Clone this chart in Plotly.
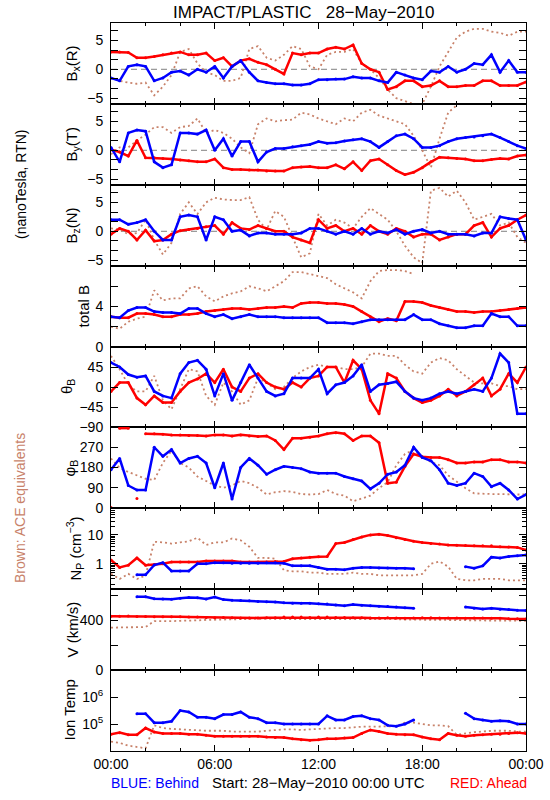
import plotly.graph_objects as go

# ---------------- data (time in hours from 28-May-2010 00:00 UTC) ----------------
hours = [i * 0.5 for i in range(49)]

bx_red = [3.0,3.0,2.9,2.0,2.0,2.2,2.5,2.8,3.0,2.5, 2.5,2.8,1.5,2.0,0.5,1.5,1.8,1.2,0.8,0.0,
          -0.8,2.8,2.5,2.8,2.8,3.5,3.8,3.5,4.2,1.0, 0.0,-0.5,-3.5,-3.0,-2.0,-2.0,-3.0,-2.8,-2.0,-3.0,
          -3.0,-2.8,-2.8,-2.0,-2.0,-2.8,-2.8,-2.8,-2.2]
bx_blue = [-1.5,-2.0,0.5,0.8,0.5,-2.0,-1.5,-0.5,-0.3,-1.0, 0.0,-0.5,0.5,-1.5,0.5,1.5,-0.5,-2.0,-2.3,-2.5,
           -2.5,-2.7,-2.7,-2.5,-1.8,-1.8,-1.7,-1.7,-1.3,-1.5, -1.5,-2.0,-2.3,-0.5,-1.0,-1.5,-1.8,-0.3,-0.5,0.5,
           -0.5,0.0,1.0,0.8,2.5,-0.5,1.5,-0.5,-0.5]
bx_ace = [-1.5,-2.0,-2.3,-2.5,-2.3,-4.5,-3.0,-1.0,3.0,3.5, 1.0,-0.5,-1.0,-2.0,-2.0,-1.5,3.5,4.0,2.0,1.5,
          2.5,4.0,3.5,0.5,0.0,2.5,3.0,3.0,3.5,1.0, 0.0,-1.5,-3.5,-5.0,-5.5,-6.0,-6.0,-3.0,0.5,3.0,
          5.5,6.5,7.0,7.0,6.5,6.3,5.8,6.5,6.5]

by_red = [0.1,-0.3,-1.0,1.7,-1.3,-1.3,-1.4,-1.5,-1.7,-1.8, -2.0,-2.0,-1.5,-3.0,-3.3,-3.3,-3.4,-3.4,-3.6,-3.6,
          -3.6,-3.0,-2.9,-2.8,-3.0,-3.0,-2.5,-3.2,-2.0,-3.5, -1.8,-1.5,-2.5,-3.5,-4.2,-3.8,-3.0,-2.0,-1.2,-1.3,
          -1.4,-1.5,-1.8,-1.8,-1.6,-1.4,-1.5,-1.0,-0.8]
by_blue = [0.5,-2.0,3.0,3.5,3.3,-2.0,-3.0,-2.5,3.0,3.0, 2.8,3.5,0.0,2.0,-1.0,1.5,1.5,-2.0,-0.3,0.3,
           0.3,0.6,0.8,1.0,1.5,1.2,1.3,1.6,1.8,2.0, 1.5,0.5,1.5,2.5,2.8,2.0,0.5,0.5,0.8,1.5,
           2.0,2.2,2.3,2.5,2.8,2.2,1.5,0.8,0.3]
by_ace = [-0.7,0.5,0.5,1.7,2.7,4.0,4.0,3.0,4.0,4.2, 5.5,3.0,3.5,3.0,2.0,0.5,-0.5,4.5,5.5,5.0,
          5.2,5.3,6.5,6.2,5.5,5.0,4.5,5.5,5.0,6.5, 7.0,6.0,5.5,5.0,4.5,2.5,0.0,-3.0,2.0,6.5,
          7.8,None,None,None,None,None,None,None,None]

bz_red = [-0.5,0.5,0.0,-1.5,0.2,-1.7,-1.5,-0.5,0.1,0.3, 0.5,0.8,1.0,-0.5,1.5,0.5,0.3,1.0,0.5,0.0,
          0.0,-1.0,-1.5,-2.0,2.0,0.5,1.0,0.0,0.5,-0.5, 1.0,0.0,-0.5,0.5,0.0,-1.0,-0.5,-0.5,-1.5,-1.0,
          -0.5,-0.5,1.0,1.5,-1.0,0.5,1.0,2.0,2.8]
bz_blue = [2.0,2.0,1.2,1.5,2.0,0.0,-1.5,-1.5,2.5,2.8, 2.5,-1.5,2.5,2.0,0.0,0.2,-0.8,-0.3,-0.3,-0.5,
           -0.5,-0.5,-0.3,0.5,0.5,0.0,-0.5,0.0,-0.5,0.5, -0.5,0.0,-0.3,0.3,-0.5,0.0,0.3,-0.3,0.0,-0.5,
           -0.5,-0.5,-0.8,-0.3,-0.3,2.5,2.2,2.0,-1.5]
bz_ace = [0.5,0.3,-0.5,-0.3,2.0,-1.5,-4.0,-2.0,3.0,5.0, 3.0,5.0,5.8,5.5,5.4,5.4,5.9,2.0,0.3,3.5,
          2.5,-1.0,-4.5,-3.8,3.0,1.0,2.0,1.5,0.5,2.5, 4.0,3.0,2.0,0.0,-2.5,-4.5,-5.5,7.0,7.5,6.0,
          7.0,5.0,2.0,2.5,3.0,1.0,1.5,-1.0,-2.0]

bt_red = [3.0,2.9,2.9,3.3,3.3,3.2,3.0,3.0,3.2,3.2, 3.3,3.5,3.6,3.7,3.8,3.8,3.7,3.8,3.9,3.9,
          4.0,3.9,4.3,4.4,4.4,4.3,4.3,4.2,4.0,3.5, 3.0,2.5,2.8,2.6,4.5,4.5,4.4,4.1,3.9,3.7,
          3.5,3.5,3.4,3.5,3.5,3.6,3.7,3.8,3.9]
bt_blue = [3.0,2.9,3.6,3.9,3.9,3.5,3.4,3.4,3.3,3.8, 3.8,3.3,3.0,3.2,2.8,3.0,3.2,3.0,3.0,3.0,
           2.9,2.9,2.9,2.9,2.9,2.4,2.4,2.4,2.3,2.5, 2.7,2.7,2.7,2.7,2.7,3.2,2.7,2.7,2.3,2.1,
           1.9,1.9,2.1,2.1,3.3,3.0,3.0,2.1,2.1]
bt_ace = [2.0,1.8,2.5,2.8,3.0,5.6,4.6,4.8,4.8,5.8, 6.0,5.0,4.5,5.0,5.3,5.5,6.0,5.8,5.5,6.0,
          6.5,7.4,7.4,7.2,7.0,6.8,6.2,5.8,5.4,4.8, 6.5,7.5,7.6,7.6,7.5,7.2,None,None,None,None,
          None,None,None,None,None,None,None,None,None]

th_red = [-10,10,10,-25,-40,-20,-35,-35,-10,10, 18,30,10,40,0,-10,20,30,10,0,
          -5,10,0,20,25,45,45,10,60,40, -30,-60,30,20,-10,-25,-35,-30,-20,-5,
          -20,-10,5,20,-20,-5,30,10,45]
th_blue = [55,45,28,22,25,-10,-20,-25,30,55, 60,40,-20,30,-30,10,50,20,-10,-20,
           -15,20,20,20,40,-15,5,10,25,50, -10,5,8,12,-10,-25,-30,-25,-15,-10,
           -15,-10,-5,-10,20,75,55,-60,-60]
th_ace = [70,40,5,-10,-10,25,-30,-50,-5,40, 35,-20,-40,10,-10,-40,-30,20,10,-5,
          0,20,35,45,50,45,45,40,40,45, 75,75,70,70,50,35,30,55,65,60,
          40,25,10,8,8,2,2,-5,-5]

ph_red = [2,355,355,42,330,330,328,325,325,322, 322,320,325,325,320,325,320,318,320,300,
          260,310,310,315,320,330,335,330,300,320, 320,290,110,115,185,240,228,225,225,215,
          200,200,205,205,215,215,205,205,200]
ph_blue = [170,220,100,80,80,270,230,260,200,220, 230,200,90,200,40,180,220,190,150,170,
           185,180,175,160,155,155,155,140,130,120, 85,110,150,160,190,270,225,210,170,110,
           100,110,155,140,95,110,80,40,60]
ph_ace = [220,178,160,145,130,125,200,255,200,180, 140,120,100,90,100,120,110,90,60,70,
          75,72,62,60,62,80,62,55,30,42, 55,88,115,190,240,258,228,205,190,145,
          115,88,65,62,62,62,60,60,60]

np_red = [1.35,0.75,0.9,1.6,0.9,0.95,1.0,1.15,1.15,1.15, 1.15,1.25,1.25,1.25,1.25,1.15,1.15,1.15,1.15,1.2,
          1.2,1.5,1.6,1.7,1.75,1.8,5.0,5.5,7.0,8.5, 10.0,10.5,9.5,8.0,7.0,6.0,5.5,5.0,4.8,4.5,
          4.4,4.3,4.2,4.2,4.2,3.9,3.8,3.7,3.0]
np_blue = [None,None,None,0.42,0.42,0.91,1.1,0.57,0.57,0.57, 1.0,1.0,1.1,1.1,1.05,1.05,1.05,1.05,1.1,1.1,
           1.05,0.85,0.85,0.85,0.75,0.65,0.65,0.62,0.7,0.75, 0.75,0.72,0.72,0.7,0.7,0.68,None,None,None,None,
           None,0.8,0.7,0.85,1.7,1.6,1.8,1.9,2.0]
np_ace = [0.45,0.3,0.45,0.3,0.4,5.8,5.5,5.0,5.5,6.0, 8.0,4.5,5.5,5.5,7.5,6.5,3.9,1.6,1.6,1.5,
          0.6,0.55,0.55,0.5,0.5,0.45,0.45,0.45,0.5,0.45, 0.45,0.4,0.4,0.4,0.4,0.4,0.45,1.0,1.2,0.8,
          0.3,0.27,0.27,0.3,0.3,0.3,0.27,0.27,0.27]

v_red = [432,432,433,430,430,428,428,428,428,426, 425,422,420,422,420,418,418,418,420,420,
         425,425,425,422,425,425,422,422,420,420, 418,418,420,418,415,418,420,420,418,418,
         418,415,418,418,415,415,412,412,410]
v_blue = [None,None,None,588,588,572,570,568,575,582, 580,570,585,565,560,558,555,550,548,545,
          540,535,535,535,532,530,522,515,525,520, 515,512,510,505,500,495,None,None,None,None,
          None,505,495,490,495,488,485,480,478]
v_ace = [340,340,342,345,345,392,390,392,395,395, 398,402,405,405,405,408,410,410,410,410,
         412,412,412,412,410,410,412,410,410,408, 408,408,410,408,405,405,405,402,400,400,
         400,400,398,398,398,398,395,395,395]

tp_red = [4.17e4,4.79e4,3.98e4,3.98e4,7.08e4,5.01e4,4.47e4,4.47e4,4.47e4,4.17e4,
          4.17e4,3.8e4,3.55e4,3.55e4,3.55e4,3.55e4,3.55e4,3.55e4,3.31e4,3.16e4,
          3.16e4,2.82e4,2.63e4,2.51e4,2.63e4,2.82e4,2.82e4,3.02e4,3.16e4,4.47e4,
          6.03e4,5.25e4,4.47e4,4.17e4,3.98e4,3.98e4,3.31e4,2.82e4,2.63e4,4.47e4,
          3.8e4,3.55e4,3.8e4,3.98e4,4.17e4,4.17e4,4.47e4,4.79e4,4.47e4]
tp_blue = [None,None,None,2.4e5,2.4e5,1.12e5,1.12e5,1.26e5,3.16e5,2.8e5,
           1.78e5,1.78e5,1.58e5,2.24e5,2.24e5,2.8e5,1.78e5,1.58e5,1.12e5,1.12e5,
           1.0e5,1.0e5,1.0e5,1.0e5,1.0e5,2.0e5,1.41e5,1.41e5,1.9e5,2.0e5,
           1.58e5,1.41e5,8.9e4,8.3e4,1.0e5,1.41e5,None,None,None,None,
           None,2.5e5,1.58e5,1.41e5,1.26e5,1.32e5,1.26e5,1.0e5,1.0e5]
tp_ace = [2.24e4,2.0e4,1.58e4,1.41e4,1.26e4,8.91e4,7.08e4,6.61e4,6.31e4,6.31e4,
          6.03e4,5.62e4,5.62e4,5.62e4,5.25e4,5.25e4,5.01e4,5.25e4,5.62e4,6.03e4,
          6.31e4,6.31e4,6.03e4,6.31e4,6.61e4,7.08e4,7.08e4,7.08e4,7.59e4,7.94e4,
          7.94e4,7.94e4,7.94e4,8.32e4,1.12e5,1.12e5,1.0e5,8.91e4,8.91e4,8.32e4,
          3.98e4,4.47e4,5.01e4,5.25e4,5.62e4,5.62e4,5.62e4,5.25e4,5.25e4]

x_tickvals = [0, 6, 12, 18, 24]
x_ticktext = ["00:00", "06:00", "12:00", "18:00", "00:00"]
x_minor = [2, 4, 8, 10, 14, 16, 20, 22]

# ---------------- styling ----------------
RED, BLUE, BROWN = "#FF0000", "#0000FF", "#C8826A"
FONT = "Liberation Sans"
W, H = 550, 800
X0, X1 = 111, 526
edges = [23, 104, 185, 266, 347, 427, 508, 589, 670, 751]

bmin = [-20/3, -10/3, -5/3, 5/3, 10/3, 20/3]
panels = [
    dict(r=bx_red, b=bx_blue, a=bx_ace, rng=[-6, 8], typ="linear", tv=[-5, 0, 5], tt=["\u22125", "0", "5"],
         mv=bmin, lab="B<sub>x</sub>(R)", lx=72, zero=True),
    dict(r=by_red, b=by_blue, a=by_ace, rng=[-6, 8], typ="linear", tv=[-5, 0, 5], tt=["\u22125", "0", "5"],
         mv=bmin, lab="B<sub>y</sub>(T)", lx=72, zero=True),
    dict(r=bz_red, b=bz_blue, a=bz_ace, rng=[-6, 8], typ="linear", tv=[-5, 0, 5], tt=["\u22125", "0", "5"],
         mv=bmin, lab="B<sub>z</sub>(N)", lx=72, zero=True),
    dict(r=bt_red, b=bt_blue, a=bt_ace, rng=[0, 8], typ="linear", tv=[0, 4], tt=["0", "4"],
         mv=[2, 6], lab="total B", lx=83, zero=False),
    dict(r=th_red, b=th_blue, a=th_ace, rng=[-90, 90], typ="linear", tv=[-90, -45, 0, 45],
         tt=["\u221290", "\u221245", "0", "45"], mv=[], lab="\u03b8<sub>B</sub>", lx=67, zero=False),
    dict(r=ph_red, b=ph_blue, a=ph_ace, rng=[0, 360], typ="linear", tv=[0, 90, 180, 270],
         tt=["0", "90", "180", "270"], mv=[], lab="\u03c6<sub>B</sub>", lx=70, zero=False, wrap=True),
    dict(r=np_red, b=np_blue, a=np_ace, rng=[-0.87, 1.93], typ="log", tv=[1, 10], tt=["1", "10"],
         mv=[0.2, 0.3, 0.4, 0.5, 0.6, 0.7, 0.8, 0.9, 2, 3, 4, 5, 6, 7, 8, 9, 20, 30, 40, 50, 60, 70, 80],
         lab="N<sub>P</sub> (cm<sup>\u22123</sup>)", lx=75, zero=False),
    dict(r=v_red, b=v_blue, a=v_ace, rng=[0, 650], typ="linear", tv=[0, 400], tt=["0", "400"],
         mv=[200, 600], lab="V (km/s)", lx=72, zero=False),
    dict(r=tp_red, b=tp_blue, a=tp_ace, rng=[4, 7], typ="log", tv=[1e5, 1e6], tt=["10<sup>5</sup>", "10<sup>6</sup>"],
         mv=[], lab="Ion Temp", lx=69, zero=False),
]


def break_wraps(t, v, jump=200):
    xs, ys, prev = [], [], None
    for a, b in zip(t, v):
        if prev is not None and b is not None and abs(b - prev) > jump:
            xs.append(None)
            ys.append(None)
        xs.append(a)
        ys.append(b)
        if b is not None:
            prev = b
    return xs, ys


fig = go.Figure()
layout = {}
shapes = []
annotations = []
for i, p in enumerate(panels):
    n = i + 1
    sfx = "" if n == 1 else str(n)
    xa, ya = "x" + sfx, "y" + sfx
    for vals, col, kind in ((p["a"], BROWN, "ace"), (p["r"], RED, "sc"), (p["b"], BLUE, "sc")):
        xs, ys = (break_wraps(hours, vals) if p.get("wrap") else (hours, vals))
        if kind == "ace":
            fig.add_trace(go.Scatter(x=xs, y=ys, xaxis=xa, yaxis=ya, mode="lines",
                                     line=dict(color=col, width=1.8, dash="2px,3px"), showlegend=False,
                                     hoverinfo="skip"))
        else:
            fig.add_trace(go.Scatter(x=xs, y=ys, xaxis=xa, yaxis=ya, mode="lines+markers",
                                     line=dict(color=col, width=2.5), marker=dict(color=col, size=3),
                                     showlegend=False, hoverinfo="skip"))
    top, bot = edges[i], edges[i + 1]
    layout["xaxis" + sfx] = dict(
        domain=[X0 / W, X1 / W], range=[0, 24], anchor=ya, showline=True, linecolor="black", linewidth=1,
        mirror="ticks", ticks="inside", ticklen=6, tickcolor="black", tickvals=x_tickvals,
        ticktext=x_ticktext, showticklabels=(n == 9), showgrid=False, zeroline=False, automargin=False,
        tickfont=dict(family=FONT, size=14, color="black"),
        minor=dict(tickvals=x_minor, ticks="inside", ticklen=3, tickcolor="black", showgrid=False),
    )
    layout["yaxis" + sfx] = dict(
        domain=[1 - bot / H, 1 - top / H], range=p["rng"], type=p["typ"], anchor=xa, showline=True,
        linecolor="black", linewidth=1, mirror="ticks", ticks="inside", ticklen=7, tickcolor="black",
        tickmode="array", tickvals=p["tv"], ticktext=p["tt"], showgrid=False, zeroline=False,
        automargin=False, ticklabelstandoff=4, tickfont=dict(family=FONT, size=14, color="black"),
        minor=dict(tickvals=p["mv"], ticks="inside", ticklen=(4 if p["typ"] == "log" else 7),
                   tickcolor="black", showgrid=False),
    )
    if p["zero"]:
        shapes.append(dict(type="line", xref=xa, yref=ya, x0=0, x1=24, y0=0, y1=0, layer="below",
                           line=dict(color="#808080", width=1, dash="6px,4px")))
    annotations.append(dict(text=p["lab"], x=p["lx"] / W, y=1 - (top + bot) / 2 / H, xref="paper", yref="paper",
                            textangle=-90, showarrow=False, xanchor="center", yanchor="middle",
                            font=dict(family=FONT, size=15, color="black")))

annotations += [
    dict(text="IMPACT/PLASTIC   28\u2212May\u22122010", x=303 / W, y=1 - 12 / H, xref="paper", yref="paper",
         showarrow=False, xanchor="center", yanchor="middle", font=dict(family=FONT, size=17, color="black")),
    dict(text="(nanoTesla, RTN)", x=21 / W, y=1 - 185 / H, xref="paper", yref="paper", textangle=-90,
         showarrow=False, xanchor="center", yanchor="middle", font=dict(family=FONT, size=14, color="black")),
    dict(text="Brown: ACE equivalents", x=20 / W, y=1 - 508 / H, xref="paper", yref="paper", textangle=-90,
         showarrow=False, xanchor="center", yanchor="middle", font=dict(family=FONT, size=14, color=BROWN)),
    dict(text="BLUE: Behind", x=155 / W, y=1 - 783 / H, xref="paper", yref="paper", showarrow=False,
         xanchor="center", yanchor="middle", font=dict(family=FONT, size=14, color=BLUE)),
    dict(text="Start: 28\u2212May\u22122010 00:00 UTC", x=318 / W, y=1 - 782 / H, xref="paper", yref="paper",
         showarrow=False, xanchor="center", yanchor="middle", font=dict(family=FONT, size=15, color="black")),
    dict(text="RED: Ahead", x=488 / W, y=1 - 783 / H, xref="paper", yref="paper", showarrow=False,
         xanchor="center", yanchor="middle", font=dict(family=FONT, size=14, color=RED)),
]

fig.update_layout(width=W, height=H, margin=dict(l=0, r=0, t=0, b=0, autoexpand=False), paper_bgcolor="white",
                  plot_bgcolor="white", shapes=shapes, annotations=annotations, showlegend=False,
                  font=dict(family=FONT, size=14, color="black"), **layout)

fig.write_html("out.html", config={"displayModeBar": False, "staticPlot": True},
               post_script="document.body.style.margin='0px';")
